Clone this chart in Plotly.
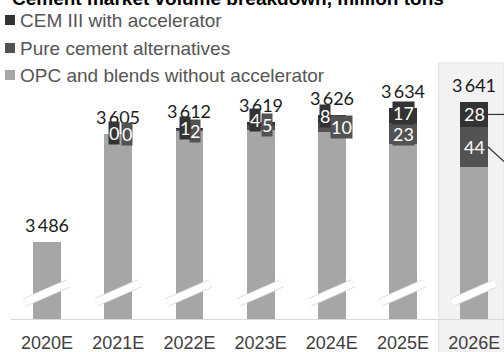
import plotly.graph_objects as go

# ---- data -------------------------------------------------------------
years = ["2020E", "2021E", "2022E", "2023E", "2024E", "2025E", "2026E"]
totals = [3486, 3605, 3612, 3619, 3626, 3634, 3641]
cem3_accel = [None, 0, 1, 4, 8, 17, 28]
pure_alt = [None, 0, 2, 5, 10, 23, 44]

series_names = ["CEM III with accelerator", "Pure cement alternatives",
                "OPC and blends without accelerator"]
title_text = "Cement market volume breakdown, million tons"

# ---- styling ------------------------------------------------------------
C_CEM = "#333333"
C_ALT = "#525252"
C_OPC = "#a6a6a6"
SANS = "Liberation Sans, Arial, sans-serif"
NUM_FONT = "Lato, Liberation Sans, sans-serif"

W, H = 504, 352
M_L, M_R, M_T, M_B = 11, 0, 60, 33
PLOT_H = H - M_T - M_B
PLOT_W = W - M_L - M_R
Y_MIN = 3401
Y_PER_PX = 1.1048
Y_MAX = Y_MIN + PLOT_H * Y_PER_PX
X_MIN = -0.506
X_MAX = X_MIN + PLOT_W / 71.2

# break marks drawn across every bar (value units)
BREAK_LO, BREAK_HI = 3419.5, 3440.5

# per-year pixel nudges for the small segment labels: (cem dx, cem dy, alt dx, alt dy)
label_nudge = [None, (-4, 1, 9, 0), (-4, 0, 6, -1), (-6, 3, 6, 3),
               (-7, 3, 10, 0), (0, 3, 0, 0), (0, 0, 0, 0)]


def py(pix):
    return (H - M_B - pix) / PLOT_H


def px(pix):
    return (pix - M_L) / PLOT_W


cem_vals = [v if v is not None else 0 for v in cem3_accel]
alt_vals = [v if v is not None else 0 for v in pure_alt]
opc_vals = [t - c - a for t, c, a in zip(totals, cem_vals, alt_vals)]
xs = list(range(len(years)))

fig = go.Figure()
for vals, name, col in [(opc_vals, series_names[2], C_OPC),
                        (alt_vals, series_names[1], C_ALT),
                        (cem_vals, series_names[0], C_CEM)]:
    fig.add_trace(go.Bar(x=xs, y=vals, name=name, marker=dict(color=col, line=dict(width=0)),
                         width=0.39, showlegend=False, hoverinfo="skip"))

shapes = []
# highlighted forecast column
shapes.append(dict(type="rect", xref="x", yref="paper", x0=5.5, x1=X_MAX,
                   y0=-0.14, y1=py(63), fillcolor="#f2f2f2",
                   line=dict(color="#e3e3e3", width=1), layer="below"))
# axis break marks
for i in xs:
    for col, wd in [("#dcdcdc", 9), ("#ffffff", 7)]:
        shapes.append(dict(type="line", xref="x", yref="y", x0=i - 0.31, x1=i + 0.30,
                           y0=BREAK_LO, y1=BREAK_HI, line=dict(color=col, width=wd),
                           layer="above"))

annotations = []
# totals above bars
for i, t in enumerate(totals):
    annotations.append(dict(x=i, y=t, xref="x", yref="y", yanchor="middle",
                            yshift=17, showarrow=False,
                            text=f"{t // 1000}\u2009{t % 1000:03d}",
                            font=dict(family=NUM_FONT, size=18, color="#1a1a1a")))

# segment value labels
for i in xs:
    if cem3_accel[i] is None:
        continue
    t = totals[i]
    c = cem3_accel[i]
    a = pure_alt[i]
    dxc, dyc, dxa, dya = label_nudge[i]
    annotations.append(dict(x=i, y=t - c - a / 2, xref="x", yref="y",
                            xshift=dxa, yshift=dya, showarrow=False, text=str(a),
                            bgcolor=C_ALT, borderpad=0,
                            font=dict(family=NUM_FONT, size=18, color="#ffffff")))
    annotations.append(dict(x=i, y=t - c / 2, xref="x", yref="y",
                            xshift=dxc, yshift=dyc, showarrow=False, text=str(c),
                            bgcolor=C_CEM, borderpad=0,
                            font=dict(family=NUM_FONT, size=18, color="#ffffff")))

# leader lines from the last column's segments
last = len(xs) - 1
cem_mid = totals[last] - cem3_accel[last] / 2
alt_mid = totals[last] - cem3_accel[last] - pure_alt[last] / 2
shapes.append(dict(type="line", xref="x", yref="y", x0=last + 0.195, x1=X_MAX,
                   y0=cem_mid, y1=cem_mid, line=dict(color="#333333", width=1.2)))
shapes.append(dict(type="line", xref="x", yref="y", x0=last + 0.195, x1=X_MAX,
                   y0=alt_mid, y1=alt_mid - 16, line=dict(color="#333333", width=1.2)))

# title
annotations.append(dict(x=px(10), y=py(-2), xref="paper", yref="paper",
                        xanchor="left", yanchor="middle", showarrow=False,
                        text=f"<b>{title_text}</b>",
                        font=dict(family=SANS, size=19, color="#000000")))

# legend
for k, (name, col) in enumerate(zip(series_names, [C_CEM, C_ALT, C_OPC])):
    cy = [20, 48, 75][k]
    shapes.append(dict(type="rect", xref="paper", yref="paper",
                       x0=px(5), x1=px(15), y0=py(cy + 5), y1=py(cy - 5),
                       fillcolor=col, line=dict(width=0)))
    annotations.append(dict(x=px(18), y=py(cy), xref="paper", yref="paper",
                            xanchor="left", yanchor="middle", showarrow=False,
                            text=name, font=dict(family=SANS, size=19, color="#555555")))

fig.update_layout(
    width=W, height=H,
    margin=dict(l=M_L, r=M_R, t=M_T, b=M_B),
    paper_bgcolor="#ffffff", plot_bgcolor="rgba(0,0,0,0)",
    barmode="stack", bargap=0,
    shapes=shapes, annotations=annotations,
    xaxis=dict(range=[X_MIN, X_MAX], tickmode="array", tickvals=xs, ticktext=years,
               showgrid=False, zeroline=False, showline=True, linecolor="#d9d9d9",
               linewidth=1, ticks="", ticklabelstandoff=7,
               tickfont=dict(family=SANS, size=18, color="#404040")),
    yaxis=dict(range=[Y_MIN, Y_MAX], visible=False, showgrid=False),
)

fig.write_html("out.html")
